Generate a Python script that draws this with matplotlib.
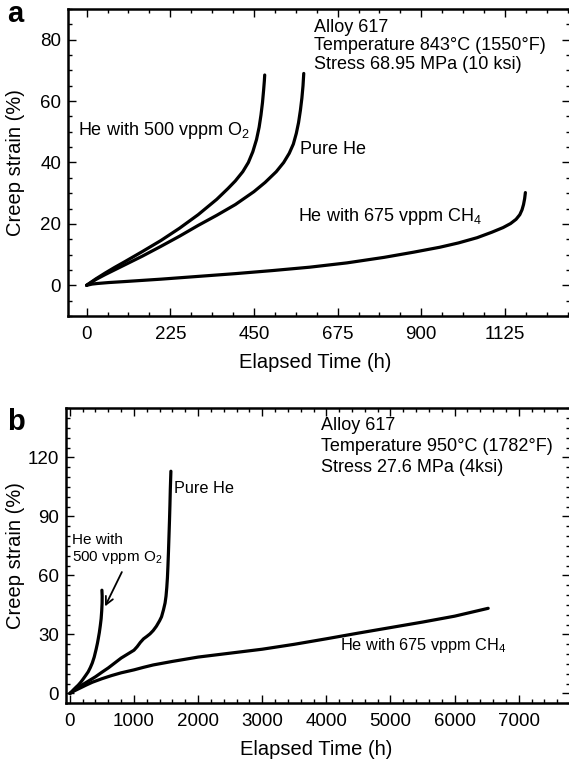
import numpy as np
import matplotlib
matplotlib.use("Agg")
import matplotlib.pyplot as plt
from matplotlib.ticker import MultipleLocator

plt.rcParams['font.family'] = ['Liberation Sans', 'DejaVu Sans']
plt.rcParams['mathtext.default'] = 'regular'

# ---- panel a : 843 C, 68.95 MPa ----
a_o2_t = [0, 25, 50, 75, 100, 150, 200, 250, 300, 350, 380, 400, 420, 435, 447,
          457, 464, 469, 473, 476, 478, 479]
a_o2_e = [0, 2.1, 4, 5.8, 7.5, 11, 14.6, 18.6, 23, 28, 31.5, 34, 37, 40, 43.5,
          47.5, 51.5, 55.5, 59.5, 63.5, 66.5, 68.5]

a_he_t = [0, 25, 50, 100, 150, 200, 250, 300, 350, 400, 450, 480, 510, 530, 545,
          556, 564, 570, 575, 579, 582, 584]
a_he_e = [0, 1.9, 3.5, 6.5, 9.5, 12.7, 16, 19.5, 22.8, 26.3, 30.5, 33.5, 37, 40, 43,
          46, 49.5, 53, 57, 61, 65, 69]

a_ch4_t = [0, 15, 30, 60, 100, 150, 200, 300, 400, 500, 600, 700, 800, 880, 950,
           1000, 1050, 1090, 1120, 1140, 1155, 1165, 1171, 1175, 1178, 1180]
a_ch4_e = [0, 0.4, 0.6, 0.9, 1.2, 1.6, 2.0, 2.9, 3.8, 4.8, 5.9, 7.3, 9.1, 10.8, 12.4,
           13.8, 15.5, 17.3, 18.8, 20.1, 21.5, 23, 24.6, 26.3, 28.2, 30.2]

# ---- panel b : 950 C, 27.6 MPa ----
b_o2_t = [0, 30, 60, 100, 130, 170, 200, 250, 286, 320, 350, 380, 410, 430, 443,
          460, 475, 488, 497, 503, 504, 500]
b_o2_e = [0, 1, 2, 3.3, 4.2, 5.7, 7, 9.3, 11, 13.2, 15.5, 18.5, 22.5, 25.5, 27.8,
          31, 34.5, 38, 42, 46, 49.5, 52.5]

b_he_t = [0, 100, 200, 300, 400, 500, 600, 700, 800, 900, 1000, 1050, 1100, 1150,
          1200, 1250, 1300, 1350, 1400, 1430, 1460, 1485, 1500, 1512, 1522, 1530,
          1538, 1546, 1554, 1561, 1567, 1573, 1576]
b_he_e = [0, 2.3, 4.5, 6.5, 8.5, 10.8, 13, 15.5, 18, 20, 22, 23.8, 26, 27.8,
          29, 30.3, 32, 34.2, 37, 39, 42.5, 46, 49.5, 54, 59, 65,
          72, 80, 88, 96, 104, 110, 113]

b_ch4_t = [0, 50, 100, 175, 250, 350, 500, 650, 800, 1000, 1150, 1300, 1600, 2000,
           2500, 3000, 3500, 4000, 4500, 5000, 5500, 6000, 6524]
b_ch4_e = [0, 1, 1.8, 3, 4.2, 5.7, 7.5, 9.1, 10.5, 12, 13.3, 14.5, 16.3, 18.5,
           20.5, 22.5, 25, 27.8, 30.7, 33.5, 36.3, 39.3, 43.3]


def style_axes(ax, xmaj, xmin, ymaj, ymin, ylab_x):
    ax.xaxis.set_major_locator(MultipleLocator(xmaj))
    ax.xaxis.set_minor_locator(MultipleLocator(xmin))
    ax.yaxis.set_major_locator(MultipleLocator(ymaj))
    ax.yaxis.set_minor_locator(MultipleLocator(ymin))
    ax.tick_params(which='both', direction='in', top=True, right=True,
                   labelsize=13.5, width=1.0)
    ax.tick_params(which='major', length=6)
    ax.tick_params(which='minor', length=3)
    ax.tick_params(axis='x', pad=7)
    ax.tick_params(axis='y', pad=5)
    for s in ax.spines.values():
        s.set_linewidth(1.8)
    ax.set_xlabel("Elapsed Time (h)", fontsize=14.5)
    ax.set_ylabel("Creep strain (%)", fontsize=14.5)
    ax.yaxis.set_label_coords(ylab_x, 0.5)


fig = plt.figure(figsize=(5.69, 7.6), dpi=100)

# panel a
ax1 = fig.add_axes([68 / 569, 1 - 316 / 760, 502 / 569, 307 / 760])
for t, e in [(a_o2_t, a_o2_e), (a_he_t, a_he_e), (a_ch4_t, a_ch4_e)]:
    ax1.plot(t, e, color='black', lw=2.3, solid_capstyle='round',
             solid_joinstyle='round')
ax1.set_xlim(-50, 1300)
ax1.set_ylim(-10, 90)
style_axes(ax1, 225, 56.25, 20, 5, -0.086)
ax1.xaxis.set_label_coords(0.493, -0.12)

ax1.text(-24, 50.5, "He with 500 vppm O$_2$", fontsize=13, va='center')
ax1.text(575, 44.2, "Pure He", fontsize=13, va='center')
ax1.text(569, 22.3, "He with 675 vppm CH$_4$", fontsize=13, va='center')
ax1.text(611, 84.1, "Alloy 617", fontsize=13, va='center')
ax1.text(611, 78.0, "Temperature 843°C (1550°F)", fontsize=13, va='center')
ax1.text(611, 71.9, "Stress 68.95 MPa (10 ksi)", fontsize=13, va='center')

# panel b
ax2 = fig.add_axes([66 / 569, 1 - 703.3 / 760, 504 / 569, 295 / 760])
for t, e in [(b_o2_t, b_o2_e), (b_he_t, b_he_e), (b_ch4_t, b_ch4_e)]:
    ax2.plot(t, e, color='black', lw=2.3, solid_capstyle='round',
             solid_joinstyle='round')
ax2.set_xlim(-60, 7800)
ax2.set_ylim(-5, 145)
style_axes(ax2, 1000, 200, 30, 5, -0.081)
ax2.xaxis.set_label_coords(0.497, -0.125)

ax2.text(40, 77.8, "He with", fontsize=11, va='center')
ax2.text(40, 69.0, "500 vppm O$_2$", fontsize=11, va='center')
ax2.annotate("", xy=(530, 43), xytext=(830, 63),
             arrowprops=dict(arrowstyle='->', lw=1.3, color='black',
                             mutation_scale=14))
ax2.text(1620, 104.4, "Pure He", fontsize=11.7, va='center')
ax2.text(4209, 24.4, "He with 675 vppm CH$_4$", fontsize=11.7, va='center')
ax2.text(3922, 136.4, "Alloy 617", fontsize=13, va='center')
ax2.text(3922, 125.6, "Temperature 950°C (1782°F)", fontsize=13, va='center')
ax2.text(3922, 114.8, "Stress 27.6 MPa (4ksi)", fontsize=13, va='center')

fig.text(7 / 569, 1 - 22 / 760, "a", fontsize=21, fontweight='bold')
fig.text(7 / 569, 1 - 430 / 760, "b", fontsize=21, fontweight='bold')

fig.savefig("out.png", dpi=100)
